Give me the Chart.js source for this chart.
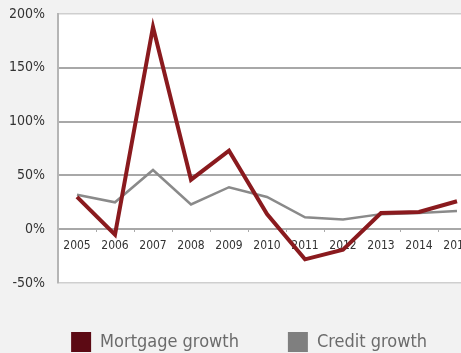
<!DOCTYPE html>
<html>
<head>
<meta charset="utf-8">
<script src="https://cdn.jsdelivr.net/npm/chart.js@4/dist/chart.umd.min.js"></script>
<style>
    html, body { margin: 0; padding: 0; background: #f2f2f2; overflow: hidden; }
    #wrap { position: relative; width: 476px; height: 362px; }
</style>
</head>
<body>
<div id="wrap"><canvas id="chart"></canvas></div>
<script>
// Данные графика
const years = ['2005', '2006', '2007', '2008', '2009', '2010', '2011', '2012', '2013', '2014', '2015'];
const mortgageGrowth = [30, -5, 188, 46, 73, 14, -28, -19, 15, 16, 26];
const creditGrowth = [32, 25, 55, 23, 39, 30, 11, 9, 14, 15, 17];
const yTicks = [-50, 0, 50, 100, 150, 200];

const narrow = "'Liberation Sans Narrow', 'DejaVu Sans Condensed', 'Roboto Condensed', sans-serif";
Chart.defaults.font.family = narrow;

// Белый фон области построения
const plotBackground = {
    id: 'plotBackground',
    beforeDraw(chart) {
        const { ctx, chartArea: a } = chart;
        ctx.save();
        ctx.fillStyle = '#ffffff';
        ctx.fillRect(a.left, a.top, a.right - a.left, a.bottom - a.top);
        ctx.restore();
    }
};

new Chart(document.getElementById('chart'), {
    type: 'line',
    data: {
        labels: years,
        datasets: [{
            label: 'Mortgage growth',
            data: mortgageGrowth,
            borderColor: '#8a1a1e',
            backgroundColor: '#5c0a14',
            borderWidth: 4,
            tension: 0,
            pointRadius: 0
        }, {
            label: 'Credit growth',
            data: creditGrowth,
            borderColor: '#8a8a8a',
            backgroundColor: '#7f7f7f',
            borderWidth: 2.5,
            tension: 0,
            pointRadius: 0
        }]
    },
    options: {
        responsive: true,
        maintainAspectRatio: false,
        animation: false,
        layout: { padding: { top: 14, left: 10, right: 0, bottom: 0 } },
        plugins: {
            tooltip: { enabled: false },
            legend: {
                position: 'bottom',
                align: 'end',
                labels: {
                    boxWidth: 20,
                    boxHeight: 20,
                    padding: 49,
                    color: '#6b6b6b',
                    font: { size: 18 },
                    generateLabels(chart) {
                        return chart.data.datasets.map((ds, i) => ({
                            text: ds.label,
                            fillStyle: ds.backgroundColor,
                            strokeStyle: ds.backgroundColor,
                            lineWidth: 0,
                            fontColor: '#6b6b6b',
                            datasetIndex: i
                        }));
                    }
                }
            }
        },
        scales: {
            x: {
                position: { y: 0 },
                offset: true,
                afterFit(scale) {
                    scale.paddingLeft = 0;
                    scale.paddingRight = 0;
                },
                grid: {
                    offset: true,
                    drawOnChartArea: false,
                    drawTicks: true,
                    tickLength: 3,
                    color: '#aaaaaa'
                },
                border: { display: false },
                ticks: {
                    color: '#333333',
                    font: { size: 12 },
                    padding: 6,
                    maxRotation: 0,
                    autoSkip: false
                }
            },
            y: {
                min: -50,
                max: 200,
                afterBuildTicks(scale) {
                    scale.ticks = yTicks.map(v => ({ value: v }));
                },
                afterFit(scale) {
                    scale.width = 48;
                    scale.paddingTop = 0;
                    scale.paddingBottom = 0;
                },
                grid: {
                    drawTicks: false,
                    color: ctx => (ctx.tick.value === 200 || ctx.tick.value === -50) ? '#cfcfcf' : '#a8a8a8',
                    lineWidth: ctx => (ctx.tick.value === 200 || ctx.tick.value === -50) ? 1.5 : 2
                },
                border: { display: true, color: '#b5b5b5', width: 2 },
                ticks: {
                    color: '#333333',
                    font: { size: 14 },
                    padding: 13,
                    callback: v => v + '%'
                }
            }
        }
    },
    plugins: [plotBackground]
});
</script>
</body>
</html>
